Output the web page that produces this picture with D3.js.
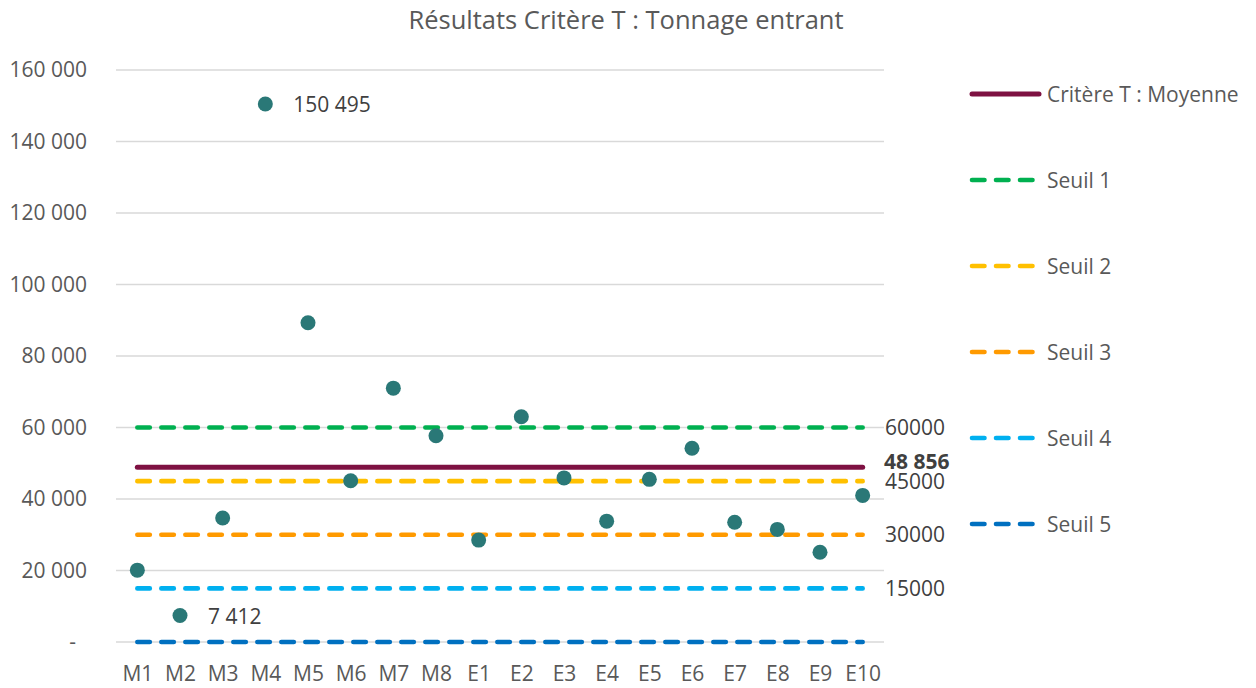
<!DOCTYPE html>
<html>
<head>
<meta charset="utf-8">
<script src="https://d3js.org/d3.v7.min.js"></script>
<style>
  body { margin: 0; background: #fff; }
  text { font-family: "Open Sans", sans-serif; }
</style>
</head>
<body>
<svg width="1256" height="688"></svg>
<script>
// data
var categories = ["M1","M2","M3","M4","M5","M6","M7","M8","E1","E2","E3","E4","E5","E6","E7","E8","E9","E10"]
var tonnage = [20100, 7412, 34700, 150495, 89300, 45100, 71000, 57700, 28500, 63000, 45900, 33800, 45500, 54200, 33500, 31500, 25100, 41000]
var moyenne = 48856
var seuilNames = ["Seuil 1", "Seuil 2", "Seuil 3", "Seuil 4", "Seuil 5"]
var seuilValues = [60000, 45000, 30000, 15000, 0]
var yTicks = [0, 20000, 40000, 60000, 80000, 100000, 120000, 140000, 160000]
var labelledPoints = ["M2", "M4"]

var seuilColors = ["#00B050", "#FFC000", "#FF9A00", "#00B0F0", "#0070C0"]
var meanColor = "#7E1142"
var dotColor = "#2A7877"
var fontSize = "21px"

var fr = d3.formatLocale({decimal: ",", thousands: " ", grouping: [3], currency: ["", ""]})
var fmt = fr.format(",d")

var svg = d3.select("svg")

var x = d3.scalePoint().domain(categories).range([116, 884]).padding(0.5)
var y = d3.scaleLinear().domain([0, 160000]).range([642, 70])

// gridlines
svg.append("g").selectAll("line")
  .data(yTicks).enter().append("line")
  .attr("x1", 116).attr("x2", 884)
  .attr("y1", d => y(d)).attr("y2", d => y(d))
  .style("stroke", "#D9D9D9").style("stroke-width", 1.3)

// y axis labels
var yAxis = d3.axisLeft(y).tickValues(yTicks).tickSize(0).tickPadding(0)
  .tickFormat(d => d === 0 ? "-" : fmt(d))
var ya = svg.append("g").attr("transform", "translate(87,0)").call(yAxis)
ya.select(".domain").remove()
ya.selectAll("text").style("font-size", fontSize).style("fill", "#595959")
  .style("font-family", "'Open Sans', sans-serif")
  .attr("dx", d => d === 0 ? -11 : 0)

// x axis labels
var xAxis = d3.axisBottom(x).tickSize(0).tickPadding(0)
var xa = svg.append("g").attr("transform", "translate(0,666)").call(xAxis)
xa.select(".domain").remove()
xa.selectAll("text").style("font-size", fontSize).style("fill", "#595959")
  .style("font-family", "'Open Sans', sans-serif")

var first = categories[0], last = categories[categories.length - 1]

// seuil lines
seuilValues.forEach(function (v, i) {
  svg.append("line")
    .attr("x1", x(first)).attr("x2", x(last))
    .attr("y1", y(v)).attr("y2", y(v))
    .style("stroke", seuilColors[i]).style("stroke-width", 4.6)
    .style("stroke-dasharray", "12.5 11.5").style("stroke-linecap", "round")
  if (v > 0) {
    svg.append("text").attr("x", 885).attr("y", y(v) + 7.5)
      .text(v).style("font-size", fontSize).style("fill", "#404040")
  }
})

// mean line
svg.append("line")
  .attr("x1", x(first)).attr("x2", x(last))
  .attr("y1", y(moyenne)).attr("y2", y(moyenne))
  .style("stroke", meanColor).style("stroke-width", 5).style("stroke-linecap", "round")
svg.append("text").attr("x", 884).attr("y", y(moyenne) + 2)
  .text(fmt(moyenne)).style("font-size", fontSize).style("font-weight", "bold").style("fill", "#404040")

// points
svg.append("g").selectAll("circle")
  .data(tonnage).enter().append("circle")
  .attr("cx", (d, i) => x(categories[i]))
  .attr("cy", d => y(d))
  .attr("r", 7.5)
  .style("fill", dotColor)

// point labels
svg.append("g").selectAll("text")
  .data(tonnage.map((d, i) => ({c: categories[i], v: d})).filter(d => labelledPoints.indexOf(d.c) >= 0))
  .enter().append("text")
  .attr("x", d => x(d.c) + 28)
  .attr("y", d => y(d.v) + 8)
  .text(d => fmt(d.v))
  .style("font-size", fontSize).style("fill", "#404040")

// title
svg.append("text").attr("x", 626).attr("y", 29).attr("text-anchor", "middle")
  .text("Résultats Critère T : Tonnage entrant")
  .style("font-size", "25.5px").style("fill", "#595959")

// legend
var legendItems = [{name: "Critère T : Moyenne", color: meanColor, dash: null}]
seuilNames.forEach((n, i) => legendItems.push({name: n, color: seuilColors[i], dash: "12.5 11.5"}))

var leg = svg.append("g").selectAll("g")
  .data(legendItems).enter().append("g")
  .attr("transform", (d, i) => "translate(0," + (94 + i * 86) + ")")
leg.append("line")
  .attr("x1", 972).attr("x2", d => d.dash ? 1033 : 1039)
  .style("stroke", d => d.color).style("stroke-width", d => d.dash ? 4.6 : 5)
  .style("stroke-linecap", "round")
  .style("stroke-dasharray", d => d.dash)
leg.append("text").attr("x", 1047).attr("y", 7.5)
  .text(d => d.name).style("font-size", fontSize).style("fill", "#595959")
</script>
</body>
</html>
